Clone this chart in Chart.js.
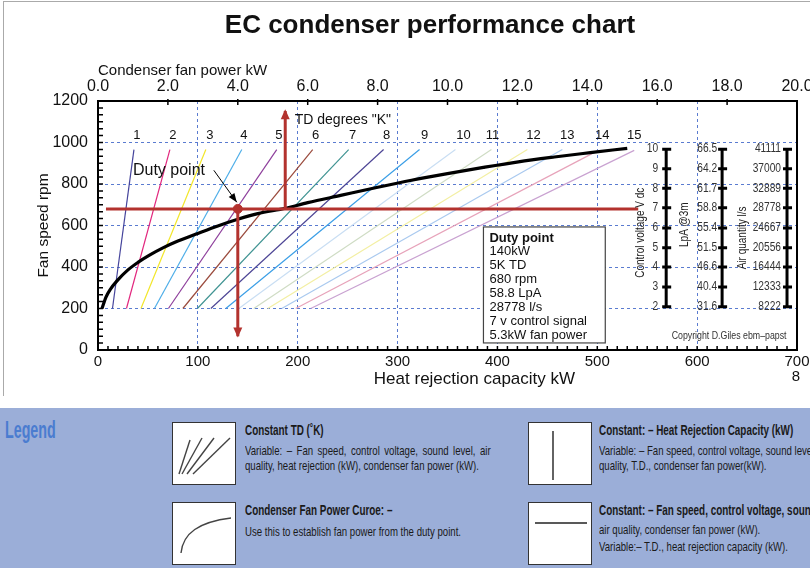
<!DOCTYPE html>
<html>
<head>
<meta charset="utf-8">
<script src="https://cdn.jsdelivr.net/npm/chart.js@4.4.0/dist/chart.umd.min.js"></script>
<style>
  html, body { margin: 0; padding: 0; background: #fff; width: 810px; height: 568px; overflow: hidden; }
  body { position: relative; font-family: "Liberation Sans", Arial, sans-serif; }
  #frame { position: absolute; left: 3px; top: 1px; width: 807px; height: 394px; border-top: 1px solid #aaa; border-left: 1px solid #aaa; }
  #title { position: absolute; left: 0; width: 860px; top: 9px; text-align: center; font-weight: bold; font-size: 26px; line-height: 30px; color: #111; }
  #chartBox { position: absolute; left: 0; top: 0; width: 810px; height: 400px; }
  #legend { position: absolute; left: 0; top: 408px; width: 810px; height: 160px; background: #9baed8; overflow: hidden;
            font-family: "Liberation Sans", Arial, sans-serif; color: #1a1a1a; white-space: nowrap; }
  #legend .lg { position: absolute; left: 5px; top: 9px; font-size: 23px; font-weight: bold; color: #4a7cd0; transform: scaleX(0.62); transform-origin: 0 0; }
  #legend .box { position: absolute; width: 62px; height: 61px; background: #fff; border: 1px solid #333; }
  #legend .hd { position: absolute; font-size: 15px; font-weight: bold; line-height: 16px; transform: scaleX(0.66); transform-origin: 0 0; }
  #legend .tx { position: absolute; font-size: 13px; line-height: 16px; transform: scaleX(0.74); transform-origin: 0 0; }
  #legend .just { text-align: justify; text-align-last: justify; }
</style>
</head>
<body>
<div id="frame"></div>
<div id="chartBox"><canvas id="chart" width="810" height="400"></canvas></div>
<div id="title">EC condenser performance chart</div>

<div id="legend">
  <div class="lg">Legend</div>

  <div class="box" style="left:172px;top:14px">
    <svg width="62" height="61">
      <g stroke="#444" stroke-width="1.4">
        <line x1="6" y1="51" x2="17" y2="17"/>
        <line x1="9" y1="51" x2="29" y2="15"/>
        <line x1="14" y1="51" x2="41" y2="15"/>
        <line x1="20" y1="51" x2="57" y2="15"/>
      </g>
    </svg>
  </div>
  <div class="hd" style="left:245px;top:14px">Constant TD (˚K)</div>
  <div class="tx just" style="left:245px;top:35px;width:332px">Variable: – Fan speed, control voltage, sound level, air</div>
  <div class="tx" style="left:245px;top:50px">quality, heat rejection (kW), condenser fan power (kW).</div>

  <div class="box" style="left:172px;top:94px">
    <svg width="62" height="61">
      <path d="M8 50 C10 30 26 19 58 15" fill="none" stroke="#444" stroke-width="1.4"/>
    </svg>
  </div>
  <div class="hd" style="left:245px;top:94px">Condenser Fan Power Curoe: –</div>
  <div class="tx" style="left:245px;top:116px">Use this to establish fan power from the duty point.</div>

  <div class="box" style="left:528px;top:14px">
    <svg width="62" height="61"><line x1="24" y1="8" x2="24" y2="57" stroke="#222" stroke-width="1.4"/></svg>
  </div>
  <div class="hd" style="left:599px;top:14px">Constant: – Heat Rejection Capacity (kW)</div>
  <div class="tx" style="left:599px;top:35px">Variable: – Fan speed, control voltage, sound level, air</div>
  <div class="tx" style="left:599px;top:50px">quality, T.D., condenser fan power(kW).</div>

  <div class="box" style="left:528px;top:94px">
    <svg width="62" height="61"><line x1="6" y1="20" x2="58" y2="20" stroke="#222" stroke-width="1.4"/></svg>
  </div>
  <div class="hd" style="left:599px;top:94px">Constant: – Fan speed, control voltage, sound level,</div>
  <div class="tx" style="left:599px;top:114px">air quality, condenser fan power (kW).</div>
  <div class="tx" style="left:599px;top:131px">Variable:– T.D., heat rejection capacity (kW).</div>
</div>

<script>
// Chart values
const tdDegrees = [1, 2, 3, 4, 5, 6, 7, 8, 9, 10, 11, 12, 13, 14, 15];
const tdStartKw = [14.5, 28.5, 43, 56.5, 70.5, 85, 99.5, 113, 128, 141, 156, 170, 184, 198, 213];
const tdStartRpm = [200, 200, 200, 200, 200, 200, 200, 200, 200, 200, 200, 200, 200, 200, 200];
const tdEndKw = [36, 72, 108, 144, 179, 215, 251, 286, 322, 358, 394, 430, 465, 501, 537];
const tdEndRpm = [966, 966, 966, 966, 966, 966, 966, 966, 966, 966, 966, 966, 966, 962, 962];
const tdLabelKw = [39, 75, 112, 146, 181, 218, 255, 289, 327, 366, 395, 436, 470, 505, 537];

const fanKw = [4, 8, 12, 19, 30, 40, 52, 65, 80, 100, 120, 140, 160, 188, 210, 243, 279, 314, 350, 386, 421, 457, 493, 530];
const fanRpm = [200, 255, 290, 333, 386, 422, 458, 492, 525, 562, 598, 630, 657, 683, 710, 745, 783, 818, 850, 880, 907, 930, 951, 972];

const dutyKw = 140;
const dutyRpm = 680;
const dutyCurveKw = 187.5;
const dutyLines = ['Duty point', '140kW', '5K TD', '680 rpm', '58.8 LpA', '28778 l/s', '7 v control signal', '5.3kW fan power'];

// side scales (value at each rpm step)
const scaleRpm = [968, 874, 779, 686, 588, 493, 400, 304, 209];
const voltLabels = ['10', '9', '8', '7', '6', '5', '4', '3', '2'];
const lpaLabels = ['66.5', '64.2', '61.7', '58.8', '55.4', '51.5', '46.6', '40.4', '31.6'];
const airLabels = ['41111', '37000', '32889', '28778', '24667', '20556', '16444', '12333', '8222'];

const tdColors = ['#45449c', '#e2277e', '#f2e629', '#4eaee8', '#8e3f9c', '#9a4a3c', '#3f9392', '#4d4595',
                  '#3a9ee6', '#c9def3', '#cfdcc4', '#f3efa3', '#a9c9ef', '#e7a3ba', '#c9a2d1'];
const RED = '#b3322e';
const SANS = '"Liberation Sans", Arial, sans-serif';

Chart.defaults.font.family = SANS;

const datasets = [];

// red duty point guide lines
datasets.push({ label: 'duty h', data: [{ x: 8, y: dutyRpm }, { x: 541, y: dutyRpm }], borderColor: RED, borderWidth: 3, order: 0 });
datasets.push({ label: 'duty down', data: [{ x: dutyKw, y: dutyRpm }, { x: dutyKw, y: 66 }], borderColor: RED, borderWidth: 3, order: 0 });
datasets.push({ label: 'duty up', data: [{ x: dutyCurveKw, y: dutyRpm }, { x: dutyCurveKw, y: 1152 }], borderColor: RED, borderWidth: 3, order: 0 });
datasets.push({ label: 'duty dot', data: [{ x: dutyKw, y: dutyRpm }], showLine: false, pointRadius: 4.5, backgroundColor: RED, borderColor: RED, order: 0 });
// annotation pointer
datasets.push({ label: 'pointer', data: [{ x: 116, y: 866 }, { x: 139, y: 712 }], borderColor: '#000', borderWidth: 1, order: 0 });

// fan power curve
datasets.push({
  label: 'Condenser fan power',
  data: fanKw.map((k, i) => ({ x: k, y: fanRpm[i] })),
  borderColor: '#000', borderWidth: 3.2, cubicInterpolationMode: 'monotone', order: 1
});

// constant TD lines
tdDegrees.forEach((d, i) => {
  datasets.push({
    label: 'TD ' + d,
    data: [{ x: tdStartKw[i], y: tdStartRpm[i] }, { x: tdEndKw[i], y: tdEndRpm[i] }],
    borderColor: tdColors[i], borderWidth: 1.2, order: 2
  });
});

datasets.forEach(ds => {
  if (ds.showLine === undefined) ds.showLine = true;
  if (ds.pointRadius === undefined) ds.pointRadius = 0;
});

const gridColor = (lo, hi) => c => (c.tick && (c.tick.value === lo || c.tick.value === hi)) ? 'rgba(0,0,0,0)' : '#5a7bd0';

function arrowHead(ctx, x, y, dir, w, len, color) {
  ctx.fillStyle = color;
  ctx.beginPath();
  ctx.moveTo(x, y);
  ctx.lineTo(x - w / 2, y - dir * len);
  ctx.lineTo(x + w / 2, y - dir * len);
  ctx.closePath();
  ctx.fill();
}

// condensed text: normal font squeezed horizontally
function narrowText(ctx, text, x, y, size, sx, align, rot) {
  ctx.save();
  ctx.translate(x, y);
  if (rot) ctx.rotate(rot);
  ctx.scale(sx, 1);
  ctx.font = size + 'px ' + SANS;
  ctx.textAlign = align;
  ctx.fillText(text, 0, 0);
  ctx.restore();
}

const overlay = {
  id: 'overlay',
  afterDatasetsDraw(chart) {
    const { ctx, chartArea: a, scales: { x, y } } = chart;
    const px = v => x.getPixelForValue(v);
    const py = v => y.getPixelForValue(v);
    ctx.save();

    // minor ticks inside the frame
    ctx.strokeStyle = '#000';
    ctx.lineWidth = 1.5;
    ctx.beginPath();
    for (let r = 200 / 6; r < 1200; r += 200 / 6) {
      ctx.moveTo(a.left, py(r)); ctx.lineTo(a.left + 5, py(r));
    }
    for (let k = 10; k < 700; k += 10) {
      ctx.moveTo(px(k), a.bottom); ctx.lineTo(px(k), a.bottom - 4);
    }
    for (let k = 70; k < 700; k += 70) {
      ctx.moveTo(px(k), a.top - 2); ctx.lineTo(px(k), a.top + 4);
    }
    ctx.stroke();

    // arrow heads
    arrowHead(ctx, px(dutyKw), py(60), 1, 9, 10, RED);
    arrowHead(ctx, px(dutyCurveKw), py(1160), -1, 9, 10, RED);
    const p1 = { x: px(116), y: py(866) }, p2 = { x: px(139), y: py(712) };
    const ang = Math.atan2(p2.y - p1.y, p2.x - p1.x);
    ctx.fillStyle = '#000';
    ctx.beginPath();
    ctx.moveTo(p2.x, p2.y);
    ctx.lineTo(p2.x - 9 * Math.cos(ang) + 3.5 * Math.sin(ang), p2.y - 9 * Math.sin(ang) - 3.5 * Math.cos(ang));
    ctx.lineTo(p2.x - 9 * Math.cos(ang) - 3.5 * Math.sin(ang), p2.y - 9 * Math.sin(ang) + 3.5 * Math.cos(ang));
    ctx.closePath();
    ctx.fill();

    // annotation texts
    ctx.fillStyle = '#111';
    ctx.textBaseline = 'middle';
    ctx.font = '16px ' + SANS;
    ctx.textAlign = 'left';
    ctx.fillText('Duty point', px(35), py(866));
    ctx.font = '14px ' + SANS;
    ctx.fillText('TD degrees "K"', px(197), py(1108));
    ctx.font = '13px ' + SANS;
    ctx.textAlign = 'center';
    tdDegrees.forEach((d, i) => ctx.fillText(String(d), px(tdLabelKw[i]), py(1036)));

    // duty point box
    const bl = px(386), br = px(508), bt = py(593), bb = py(34);
    ctx.fillStyle = '#fff';
    ctx.fillRect(bl, bt, br - bl, bb - bt);
    ctx.strokeStyle = '#444';
    ctx.lineWidth = 1.2;
    ctx.strokeRect(bl, bt, br - bl, bb - bt);
    ctx.fillStyle = '#111';
    ctx.textAlign = 'left';
    dutyLines.forEach((t, i) => {
      ctx.font = (i === 0 ? 'bold ' : '') + '13px ' + SANS;
      ctx.fillText(t, bl + 6, bt + 11 + i * 13.9);
    });

    // side scales
    const bars = [
      { kw: 569, labels: voltLabels, gap: 8 },
      { kw: 625, labels: lpaLabels, gap: 5 },
      { kw: 690, labels: airLabels, gap: 6 }
    ];
    bars.forEach(b => {
      const bx = px(b.kw);
      ctx.strokeStyle = '#000';
      ctx.lineWidth = 3;
      ctx.beginPath();
      ctx.moveTo(bx, py(scaleRpm[0]) - 1);
      ctx.lineTo(bx, py(scaleRpm[scaleRpm.length - 1]) + 1);
      ctx.stroke();
      ctx.beginPath();
      scaleRpm.forEach(r => { ctx.moveTo(bx - 4, py(r)); ctx.lineTo(bx + 5, py(r)); });
      ctx.stroke();
      ctx.fillStyle = '#333';
      b.labels.forEach((t, i) => narrowText(ctx, t, bx - b.gap, py(scaleRpm[i]), 12, 0.85, 'right'));
    });

    // rotated scale titles
    ctx.fillStyle = '#222';
    narrowText(ctx, 'Control voltage V dc', px(543), py(565), 12.5, 0.8, 'center', -Math.PI / 2);
    narrowText(ctx, 'LpA @3m', px(587), py(604), 12.5, 0.8, 'center', -Math.PI / 2);
    narrowText(ctx, 'Air quantity l/s', px(645), py(540), 12.5, 0.8, 'center', -Math.PI / 2);

    ctx.fillStyle = '#333';
    narrowText(ctx, 'Copyright D.Giles ebm\u2013papst', px(632), py(66), 10, 0.88, 'center');

    // bottom axis title and page number
    ctx.fillStyle = '#111';
    ctx.textAlign = 'center';
    ctx.font = '17px ' + SANS;
    ctx.fillText('Heat rejection capacity kW', px(377), 379);
    ctx.font = '15px ' + SANS;
    ctx.fillText('8', px(699), 377);

    ctx.restore();
  }
};

new Chart(document.getElementById('chart'), {
  type: 'scatter',
  data: { datasets },
  options: {
    responsive: false,
    animation: false,
    layout: { padding: { left: 0, right: 13, top: 0, bottom: 0 } },
    plugins: { legend: { display: false }, tooltip: { enabled: false } },
    scales: {
      x: {
        type: 'linear', position: 'bottom', min: 0, max: 700,
        ticks: { stepSize: 100, font: { size: 15 }, color: '#111', padding: 3, maxRotation: 0, callback: v => String(v) },
        grid: { color: gridColor(0, 700), lineWidth: 1, drawTicks: false },
        border: { color: '#000', width: 2, dash: [3, 3] },
        afterFit: s => { s.height = 50; s.paddingLeft = 0; s.paddingRight = 0; }
      },
      x2: {
        type: 'linear', position: 'top', min: 0, max: 20,
        ticks: { stepSize: 2, callback: v => v.toFixed(1), font: { size: 16 }, color: '#111', padding: 5, maxRotation: 0 },
        grid: { display: false, drawTicks: false },
        border: { color: '#000', width: 2 },
        title: { display: true, text: 'Condenser fan power kW', align: 'start', font: { size: 15 }, color: '#111', padding: { top: 62 } },
        afterFit: s => { s.height = 101; s.paddingLeft = 0; s.paddingRight = 0; }
      },
      y: {
        type: 'linear', position: 'left', min: 0, max: 1200,
        ticks: { stepSize: 200, font: { size: 16 }, color: '#111', padding: 10, callback: v => String(v) },
        grid: { color: gridColor(0, 1200), lineWidth: 1, drawTicks: false },
        border: { color: '#000', width: 2, dash: [3, 3] },
        title: { display: true, text: 'Fan speed rpm', font: { size: 15.5 }, color: '#111', padding: { top: 34 } },
        afterFit: s => { s.width = 98; s.paddingTop = 0; s.paddingBottom = 0; }
      },
      y2: {
        type: 'linear', position: 'right', min: 0, max: 1200,
        ticks: { display: false },
        grid: { display: false, drawTicks: false },
        border: { color: '#000', width: 2 },
        afterFit: s => { s.width = 0; s.paddingTop = 0; s.paddingBottom = 0; }
      }
    }
  },
  plugins: [overlay]
});
</script>
</body>
</html>
